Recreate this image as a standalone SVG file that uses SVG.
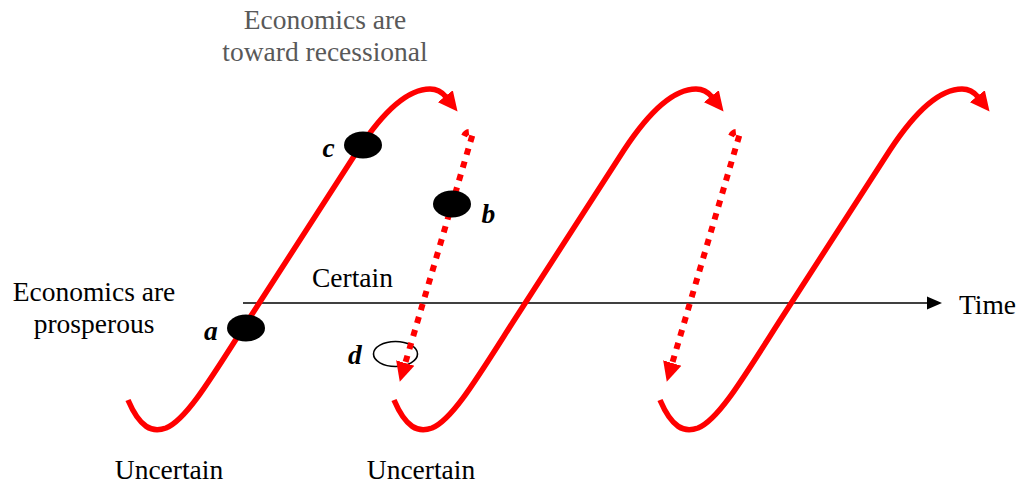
<svg xmlns="http://www.w3.org/2000/svg" width="1018" height="485" viewBox="0 0 1018 485">
<style>
text{font-family:"Liberation Serif","Times New Roman",serif;font-size:27.5px;fill:#000}
.gray{fill:#595959}
.lbl{font-style:italic;font-weight:bold}
.cyc{fill:none;stroke:#ff0000;stroke-width:5.5}
.dot{fill:none;stroke:#ff0000;stroke-width:6;stroke-dasharray:6.5 7}
.pt{fill:#000}
</style>
<defs>
<marker id="ah" markerUnits="userSpaceOnUse" markerWidth="20" markerHeight="20" viewBox="0 0 20 20" refX="1" refY="10" orient="auto">
<path d="M0,0.5 L19.5,10 L0,19.5 z" fill="#ff0000" stroke="none"/>
</marker>
<marker id="ax" markerUnits="userSpaceOnUse" markerWidth="16" markerHeight="14" viewBox="0 0 16 14" refX="1" refY="7" orient="auto">
<path d="M0,0.5 L15,7 L0,13.5 z" fill="#000" stroke="none"/>
</marker>
</defs>
<rect width="1018" height="485" fill="#fff"/>
<g id="texts">
<text class="gray" x="325" y="29" text-anchor="middle">Economics are</text>
<text class="gray" x="325" y="61" text-anchor="middle">toward recessional</text>
<text x="94" y="301" text-anchor="middle">Economics are</text>
<text x="94" y="333" text-anchor="middle">prosperous</text>
<text x="352.5" y="287" text-anchor="middle">Certain</text>
<text x="959" y="314">Time</text>
<text x="169" y="479" text-anchor="middle">Uncertain</text>
<text x="421" y="479" text-anchor="middle">Uncertain</text>
</g>
<g id="connectors">
<line id="axis" x1="243" y1="303" x2="928" y2="303" stroke="#000" stroke-width="1.6" marker-end="url(#ax)"/>
<path id="cycle1" class="cyc" d="M128,400 C140,428 152,433 166,428 C186,420 210,380 247,322 L358,150 C383,112 407,89 430,89 C437,89 442,92 446,97" marker-end="url(#ah)"/>
<path id="cycle2" class="cyc" transform="translate(266,0)" d="M128,400 C140,428 152,433 166,428 C186,420 210,380 247,322 L358,150 C383,112 407,89 430,89 C437,89 442,92 446,97" marker-end="url(#ah)"/>
<path id="cycle3" class="cyc" transform="translate(532,0)" d="M128,400 C140,428 152,433 166,428 C186,420 210,380 247,322 L358,150 C383,112 407,89 430,89 C437,89 442,92 446,97" marker-end="url(#ah)"/>
<ellipse id="loop-d" cx="395.5" cy="354" rx="22" ry="12.5" fill="none" stroke="#000" stroke-width="1.6"/>
<path id="drop1" class="dot" d="M464,136 Q467,130 473,133 L405,364" marker-end="url(#ah)"/>
<path id="drop2" class="dot" d="M731,136 Q734,130 740,133 L672,364" marker-end="url(#ah)"/>
</g>
<g id="node-a"><ellipse class="pt" cx="246" cy="328" rx="19" ry="13.5"/><text class="lbl" x="204" y="340">a</text></g>
<g id="node-b"><ellipse class="pt" cx="452" cy="204" rx="19" ry="13.5"/><text class="lbl" x="481.5" y="223">b</text></g>
<g id="node-c"><ellipse class="pt" cx="363" cy="145" rx="19" ry="13.5"/><text class="lbl" x="322.5" y="157">c</text></g>
<g id="node-d"><text class="lbl" x="348" y="364">d</text></g>
</svg>
